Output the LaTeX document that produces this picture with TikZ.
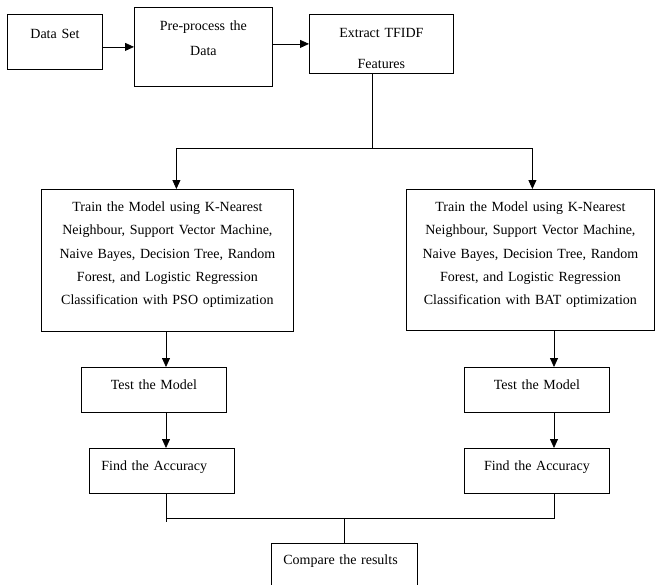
\documentclass[tikz,border=0pt]{standalone}
\usepackage{fontspec}
\setmainfont{Liberation Serif}
\usetikzlibrary{arrows.meta}

\tikzset{
  boite/.style={draw, rectangle, anchor=north west, inner xsep=0pt, inner ysep=0pt,
    align=center, line width=0.8pt, font=\fontsize{14}{23.3}\selectfont},
  fleche/.style={line width=0.8pt, -{Triangle[length=9pt,width=8pt]}},
  trait/.style={line width=0.8pt}
}

\begin{document}
\begin{tikzpicture}[x=1pt, y=-1pt]
			\useasboundingbox (0,0) rectangle (655,584);
			\clip (0,0) rectangle (655,584);
			%Noeuds du schema
			\node[boite, text width=95pt, text height=24pt, text depth=31pt] (DS) at (7,14) {Data Set};
			\node[boite, text width=138pt, text height=23.5pt, text depth=55.5pt] (PP) at (134,7) {Pre-process the\\[1.7pt]Data};
			\node[boite, text width=144pt, text height=23pt, text depth=36pt] (TFIDF) at (309,14) {Extract TFIDF\\[7.7pt]Features};
			\node[boite, text width=252pt, text height=22pt, text depth=120pt] (KNNPSO) at (41,189) {Train the Model using K-Nearest\\Neighbour, Support Vector Machine,\\Naive Bayes, Decision Tree, Random\\Forest, and Logistic Regression\\Classification with PSO optimization};
			\node[boite, text width=248pt, text height=22pt, text depth=119pt] (KNNBAT) at (406,189) {Train the Model using K-Nearest\\Neighbour, Support Vector Machine,\\Naive Bayes, Decision Tree, Random\\Forest, and Logistic Regression\\Classification with BAT optimization};
			\node[boite, text width=145pt, text height=22pt, text depth=23pt] (TestP) at (81,367) {Test the Model};
			\node[boite, text width=145pt, text height=22pt, text depth=23pt] (TestB) at (464,367) {Test the Model};
			\node[boite, align=left, inner xsep=12pt, text width=121pt, text height=22pt, text depth=23pt] (AccP) at (89,448) {Find the Accuracy};
			\node[boite, text width=145pt, text height=22pt, text depth=23pt] (AccB) at (464,448) {Find the Accuracy};
			\node[boite, align=left, inner xsep=12pt, text width=122pt, text height=21pt, text depth=60pt] (Cmp) at (271,543) {Compare the results};
			%Points de jonction
			\coordinate (split) at (372,148);
			\coordinate (colP) at (166,0);
			\coordinate (colB) at (554,0);
			\coordinate (merge) at (Cmp.north |- 0,518);
			%Fleches
			\draw[fleche] (DS.east |- PP.west) -- (PP.west);
			\draw[fleche] (PP.east |- TFIDF.west) -- (TFIDF.west);
			\draw[trait] (TFIDF.south -| split) -- (split);
			\draw[fleche] (split) -| ([xshift=9pt]KNNPSO.north);
			\draw[fleche] (split) -| ([xshift=2pt]KNNBAT.north);
			\draw[fleche] (KNNPSO.south -| colP) -- (TestP.north -| colP);
			\draw[fleche] (TestP.south -| colP) -- (AccP.north -| colP);
			\draw[fleche] (KNNBAT.south -| colB) -- (TestB.north -| colB);
			\draw[fleche] (TestB.south -| colB) -- (AccB.north -| colB);
			\draw[trait] (AccP.south -| colP) -- (colP |- 0,522);
			\draw[trait] (colP |- merge) -- (colB |- merge) -- (AccB.south -| colB);
			\draw[trait] (merge) -- (Cmp.north);
		\end{tikzpicture}
\end{document}
